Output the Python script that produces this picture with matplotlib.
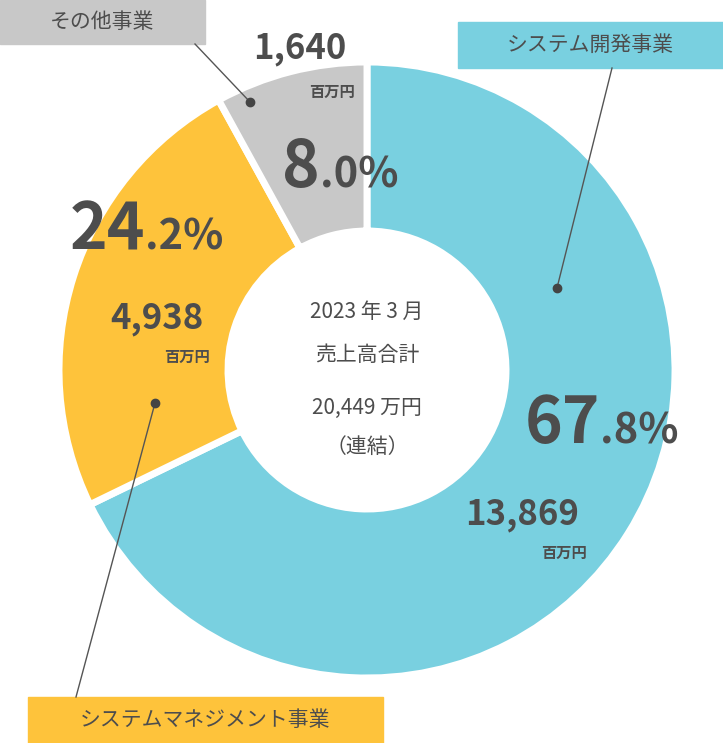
import matplotlib
matplotlib.use("Agg")
import matplotlib.pyplot as plt
from matplotlib.patches import Rectangle, Circle

categories = ["システム開発事業", "システムマネジメント事業", "その他事業"]
shares = [67.8, 24.2, 8.0]
amounts = ["13,869", "4,938", "1,640"]
colors = ["#79d0e0", "#fec33b", "#c8c8c8"]
FONT = "Noto Sans CJK JP"
TXT = "#4d4d4d"
H = 743

fig = plt.figure(figsize=(7.23, 7.43), dpi=100)
ax = fig.add_axes([0, 0, 1, 1])
ax.set_xlim(0, 723); ax.set_ylim(0, H); ax.axis("off")
ax.set_aspect("equal")

ax.pie(shares, colors=colors, startangle=90, counterclock=False, center=(367, H-370),
       radius=308, wedgeprops=dict(width=169, edgecolor="white", linewidth=5), frame=True)
ax.set_xlim(0, 723); ax.set_ylim(0, H); ax.axis("off")

def t(x, y, s, size, ha="center", weight="normal", va="center"):
    ax.text(x, H-y, s, fontsize=size, ha=ha, va=va, color=TXT, fontweight=weight, family=FONT)

# center text
t(367, 312, "2023 年 3 月", 15)
t(367, 355, "売上高合計", 15)
t(367, 408, "20,449 万円", 15)
t(367, 447, "（連結）", 15)

def pct(x, y, s, big=46, small=30):
    a, b = s.split(".")
    ax.text(x, H-y, a, fontsize=big, ha="right", va="baseline", color=TXT, fontweight="bold", family=FONT)
    ax.text(x, H-y, "." + b + "%", fontsize=small, ha="left", va="baseline", color=TXT, fontweight="bold", family=FONT)

pct(600, 443, f"{shares[0]:.1f}")
pct(145, 250, f"{shares[1]:.1f}")
pct(320, 187, f"{shares[2]:.1f}")

t(522, 515, amounts[0], 25, weight="bold")
t(587, 553, "百万円", 11, ha="right", weight="bold")
t(157, 318, amounts[1], 25, weight="bold")
t(210, 357, "百万円", 11, ha="right", weight="bold")
t(300, 48, amounts[2], 25, weight="bold")
t(355, 92, "百万円", 11, ha="right", weight="bold")

# legend boxes
def box(x0, y0, x1, y1, c, s):
    ax.add_patch(Rectangle((x0, H-y1), x1-x0, y1-y0, color=c, zorder=3))
    t((x0+x1)/2, (y0+y1)/2, s, 15)

box(0, 0, 205, 44, colors[2], categories[2])
box(458, 22, 723, 68, colors[0], categories[0])
box(28, 697, 383, 743, colors[1], categories[1])

# leader lines
for (x0, y0), (x1, y1) in [((195, 44), (250, 102)), ((612, 68), (557, 288)), ((155, 403), (76, 697))]:
    ax.plot([x0, x1], [H-y0, H-y1], color="#555555", lw=1, zorder=4)
for (x, y) in [(250, 102), (557, 288), (155, 403)]:
    ax.plot(x, H-y, "o", color="#444444", ms=6, zorder=5)

fig.savefig("out.png", dpi=100)
